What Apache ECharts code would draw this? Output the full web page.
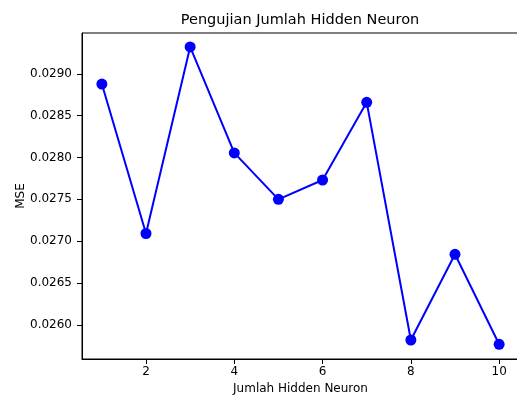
<!DOCTYPE html>
<html><head><meta charset="utf-8">
<script src="https://cdn.jsdelivr.net/npm/echarts@6/dist/echarts.min.js"></script>
<style>html,body{margin:0;padding:0;background:#fff}#c{width:517px;height:396px}</style>
</head><body><div id="c"></div>
<script>
const neurons = [1, 2, 3, 4, 5, 6, 7, 8, 9, 10];
const mse = [0.028877, 0.027092, 0.029320, 0.028055, 0.027500, 0.027731, 0.028659, 0.025820, 0.026844, 0.025769];
const xTicks = [2, 4, 6, 8, 10];
const yTicks = [0.0260, 0.0265, 0.0270, 0.0275, 0.0280, 0.0285, 0.0290];
const titleText = 'Pengujian Jumlah Hidden Neuron';
const xName = 'Jumlah Hidden Neuron';
const yName = 'MSE';

const F = 'DejaVu Sans';
const chart = echarts.init(document.getElementById('c'), null, {renderer: 'canvas'});
chart.setOption({
  animation: false,
  backgroundColor: '#fff',
  graphic: [{
    type: 'text', x: 300, y: 20,
    style: {text: titleText, font: '14.5px "DejaVu Sans"', fill: '#000', textAlign: 'center', textVerticalAlign: 'middle', verticalAlign: 'middle'}
  }],
  grid: {left: 82, top: 33, right: -2, bottom: 37, containLabel: false, outerBoundsMode: 'none',
    show: true, borderColor: '#000', borderWidth: 1, backgroundColor: 'transparent'},
  xAxis: {
    type: 'value', min: 0.55, max: 10.45,
    name: xName, nameLocation: 'middle', nameGap: 24, nameMoveOverlap: false,
    nameTextStyle: {fontFamily: F, fontSize: 12, color: '#000'},
    axisLine: {show: true, onZero: false, lineStyle: {color: '#000', width: 1}},
    axisTick: {show: true, length: 5, lineStyle: {color: '#000'}, customValues: xTicks},
    axisLabel: {fontFamily: F, fontSize: 12, color: '#000', margin: 7, customValues: xTicks},
    splitLine: {show: false}
  },
  yAxis: {
    type: 'value', min: 0.025593, max: 0.029487,
    name: yName, nameLocation: 'middle', nameGap: 55, nameRotate: 90, nameMoveOverlap: false,
    nameTextStyle: {fontFamily: F, fontSize: 12, color: '#000'},
    axisLine: {show: true, lineStyle: {color: '#000', width: 1}},
    axisTick: {show: true, length: 5, lineStyle: {color: '#000'}, customValues: yTicks},
    axisLabel: {fontFamily: F, fontSize: 12, color: '#000', margin: 10, customValues: yTicks,
      formatter: v => v.toFixed(4)},
    splitLine: {show: false}
  },
  series: [{
    type: 'line',
    data: neurons.map((n, i) => [n, mse[i]]),
    symbol: 'circle', symbolSize: 11,
    lineStyle: {color: '#0000ff', width: 2},
    itemStyle: {color: '#0000ff'},
    clip: false
  }]
});
</script></body></html>
